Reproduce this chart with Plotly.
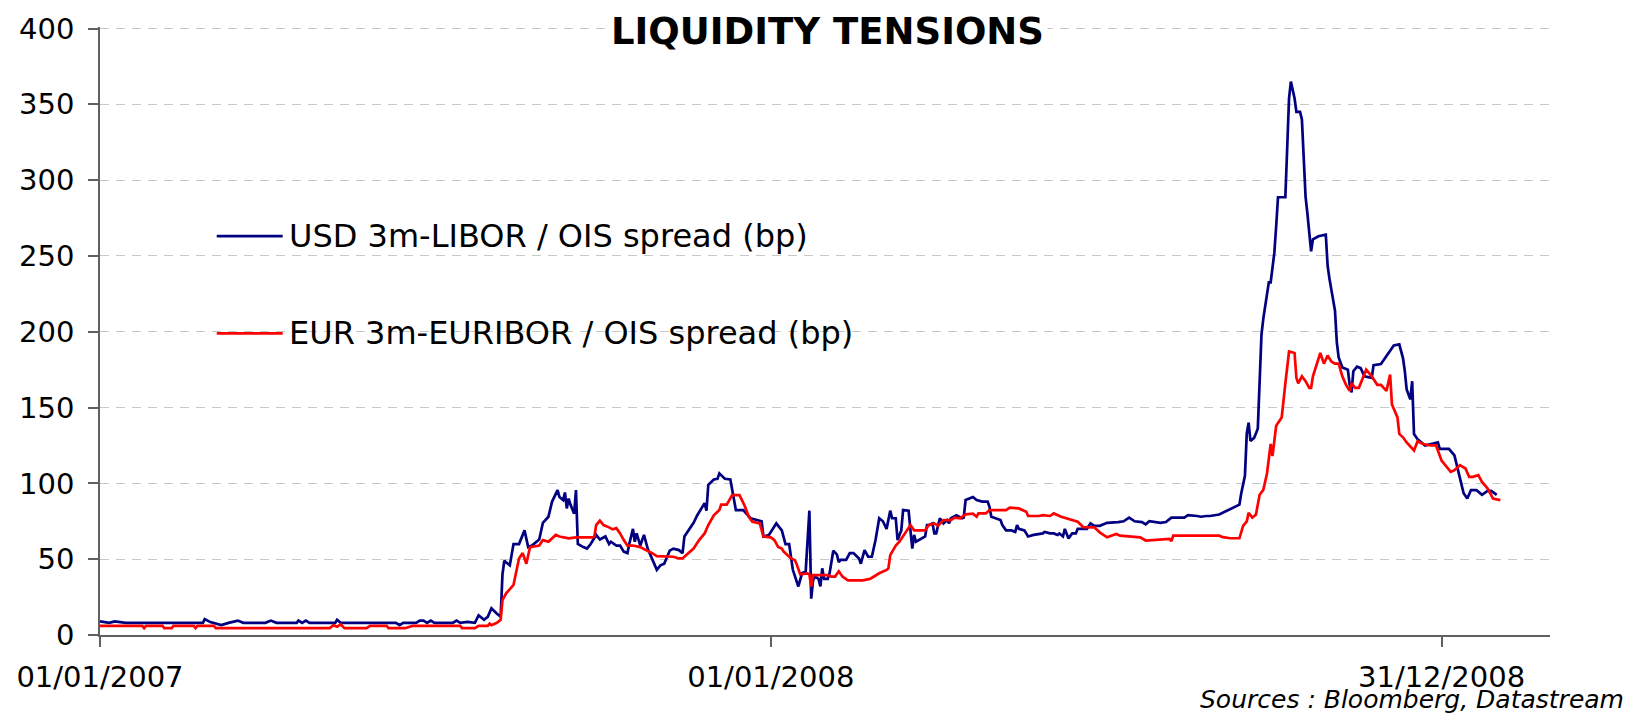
import pandas as pd
import plotly.graph_objects as go

# ---- data ----
base_date = "2007-01-01"          # day 0 of the day counts below

usd_day = [0, 5, 8, 14, 56, 57, 60, 66, 70, 75, 78, 90, 93, 96, 107, 108, 110, 112, 114,
           128, 129, 131, 161, 163, 165, 172, 174, 176, 178, 180, 182, 192, 194, 196, 200,
           204, 206, 209, 211, 213, 216, 218, 219, 220, 223, 225, 228, 231, 233, 235, 239,
           241, 244, 246, 249, 250, 252, 253, 254, 255, 256, 258, 259, 260, 263, 265, 267,
           270, 272, 275, 277, 278, 281, 283, 285, 287, 288, 290, 291, 292, 294, 296, 298,
           301, 303, 305, 307, 310, 312, 315, 317, 318, 321, 323, 325, 327, 329, 330, 331,
           334, 336, 337, 340, 343, 346, 350, 354, 360, 361, 364, 368, 371, 373, 375, 377,
           380, 382, 384, 386, 387, 388, 389, 391, 392, 393, 394, 396, 397, 399, 401, 402,
           403, 406, 408, 410, 413, 414, 416, 418, 420, 422, 424, 426, 428, 430, 431, 433,
           434, 436, 437, 440, 441, 442, 443, 444, 449, 450, 451, 453, 454, 455, 457, 459,
           461, 462, 463, 466, 469, 470, 471, 475, 477, 480, 483, 484, 485, 490, 491, 493,
           496, 498, 499, 500, 503, 505, 508, 513, 514, 517, 519, 521, 522, 524, 525, 527,
           529, 531, 532, 534, 537, 539, 541, 544, 548, 554, 557, 560, 563, 567, 569, 571,
           575, 577, 580, 583, 590, 592, 597, 599, 602, 604, 609, 613, 617, 620, 621, 623,
           624, 625, 626, 628, 630, 632, 633, 636, 637, 639, 640, 641, 645, 646, 647, 648,
           650, 651, 653, 654, 656, 657, 659, 660, 663, 667, 668, 669, 672, 673, 674, 676,
           679, 680, 681, 682, 684, 686, 688, 692, 693, 697, 701, 704, 707, 709, 710, 711,
           713, 714, 715, 717, 721, 728, 729, 734, 737, 739, 742, 744, 746, 749, 752, 755,
           757, 760]
usd_val = [9, 8, 9, 8, 8, 10.5, 8.5, 6.5, 8, 9.5, 8, 8, 9.5, 8, 8, 9.5, 8, 9.5, 8,
           8, 10, 8, 8, 6.5, 8, 8, 9.5, 9.5, 8, 9.5, 8, 8, 9.5, 8, 8.6,
           8, 13, 10, 12, 17.6, 14, 12, 40, 49, 46, 60, 60, 69, 58, 59, 63,
           74, 78, 88, 95.6, 91, 89, 94, 83.5, 90, 86, 80, 95.6, 60, 58, 57, 60,
           66, 63, 65, 60, 61.5, 59, 59, 55, 54, 60, 70, 61.5, 67, 59, 66, 57,
           48, 43, 46, 47, 55.6, 57, 56, 54, 65, 70, 74, 79, 83.5, 87, 82, 99,
           102.6, 103, 106.6, 103, 102.6, 82.4, 82.4, 77, 75, 65, 66, 73.6, 69, 60, 60, 43,
           32, 40.7, 42, 82, 24, 36, 38.5, 37, 32, 44, 37, 37, 40.7, 55.6, 53, 48,
           49.5, 49.5, 54, 54, 50.5, 47, 56, 51.6, 51.6, 62.6, 77, 75, 70, 82, 77, 77,
           62.6, 69, 82.4, 82, 69, 57, 66, 61.5, 65, 72.5, 72.5, 73.6, 67, 67, 77, 73.6,
           75.8, 73.6, 77, 79, 77, 77.5, 89, 91, 89, 88, 88, 84.6, 78, 75.8, 72.5, 69,
           69, 68, 72.5, 70, 69, 65, 66, 67, 68, 67, 67, 66, 67, 65, 70, 63.7,
           67, 67, 70, 70, 70, 73.6, 72, 72, 74, 74.5, 75, 77.4, 75, 74.5, 73, 75,
           74, 74, 74.5, 77.4, 77.4, 79, 78.5, 78, 78.5, 78.5, 79.5, 81.7, 84, 86, 93.5, 105,
           133, 140, 128, 130, 136, 198, 208.7, 232.6, 232.6, 252, 269.6, 288.7, 288.7, 325, 354, 365,
           354, 345, 345, 340, 289, 278, 253, 261, 263, 264, 243.5, 235, 214, 193, 183, 176.5,
           175, 165, 160, 174, 177, 176, 170.6, 169.6, 178, 178.7, 186, 191, 191.7, 182.6, 174, 162,
           155.4, 167.4, 132.6, 129, 125, 127, 122.8, 122.8, 118.5, 108.7, 93.5, 90, 95.6, 95.5, 92.4, 95,
           95, 92.4]

eur_day = [0, 23, 24, 25, 34, 35, 39, 40, 51, 52, 53, 62, 63, 125, 127, 129, 131, 133, 145,
           147, 156, 157, 166, 170, 196, 197, 204, 206, 211, 212, 213, 216, 218, 219, 221,
           225, 228, 230, 232, 234, 239, 241, 244, 248, 250, 253, 255, 259, 268, 269, 270,
           272, 274, 277, 279, 281, 283, 285, 287, 290, 294, 297, 300, 303, 309, 312, 315,
           317, 319, 323, 326, 329, 331, 334, 337, 338, 341, 344, 348, 351, 353, 355, 359,
           361, 365, 367, 369, 371, 372, 374, 376, 378, 379, 381, 385, 386, 387, 388, 396,
           398, 400, 402, 404, 407, 415, 419, 422, 424, 428, 429, 430, 433, 435, 437, 439,
           441, 443, 449, 451, 454, 456, 459, 463, 465, 468, 471, 475, 477, 478, 482, 484,
           493, 495, 500, 504, 505, 511, 513, 517, 519, 523, 526, 530, 532, 535, 539, 541,
           544, 548, 553, 555, 566, 569, 582, 583, 584, 609, 611, 615, 620, 622, 624, 625,
           627, 629, 631, 633, 635, 637, 638, 640, 643, 644, 645, 647, 650, 651, 652, 654,
           656, 658, 659, 660, 664, 666, 668, 670, 672, 674, 676, 678, 680, 681, 683, 685,
           687, 689, 692, 695, 697, 700, 702, 703, 706, 707, 709, 711, 715, 717, 718, 720,
           724, 727, 730, 735, 737, 740, 743, 745, 747, 750, 752, 755, 758, 762]
eur_val = [6, 6, 4.5, 6, 6, 4.5, 4.5, 6, 6, 4.5, 6, 6, 4.5, 4.5, 6.5, 5.5, 7, 4.5, 4.5,
           6, 6, 4.5, 4.5, 6, 6, 4.5, 4.5, 6, 6, 7.5, 6.5, 8, 10, 23, 27.5,
           33, 50.5, 54, 47, 58, 59, 62.6, 61.5, 66, 65, 64.5, 63.7, 64.4, 64.4, 65, 72.5,
           75.4, 72.5, 71, 69.7, 70.5, 67, 62.6, 59, 59, 58, 56, 54.3, 52, 52, 51.6, 50.5,
           50.5, 52.7, 57, 62.6, 67, 72.5, 79, 82.4, 86, 86, 92.3, 92.3, 84.6, 78, 74.7, 73.6,
           65, 64.4, 62.6, 58, 57, 55, 52.7, 50.5, 49.5, 47, 40, 40.7, 40, 32, 39.5, 39.5,
           38.5, 38.5, 42, 38.5, 36, 36, 37, 39.5, 40.7, 42.9, 44, 52.7, 59, 61.5, 65, 69,
           72.5, 69, 69, 72.5, 73.6, 72, 75.8, 75.8, 77.4, 77, 79.6, 80, 78, 80.2, 80.2, 82.4,
           82.4, 84, 83.5, 81.3, 78.5, 78.5, 79, 78.5, 80.2, 78, 77, 75.2, 74.7, 71.2, 71, 71,
           67.7, 64.4, 66.6, 65.5, 64.4, 62.3, 63.4, 62, 65.5, 65.5, 64.5, 63.8, 63.8, 72, 75, 80.6,
           77.4, 79.5, 92.5, 95.7, 106.5, 126, 118, 138, 143.5, 156.5, 166, 187, 186, 169.6, 166, 170.6,
           167.4, 163, 163, 170.6, 186, 179, 184.3, 180.4, 179, 179, 170.6, 165, 161, 166, 163, 163,
           168.5, 175, 170.6, 165, 165, 161, 171.7, 152, 143.5, 132.6, 130.4, 127, 121.7, 128, 127, 126,
           125, 125, 115, 107.6, 108.7, 112, 109.8, 104.3, 104.3, 105.4, 101, 96.7, 90, 89]

usd_name = "USD 3m-LIBOR / OIS spread (bp)"
eur_name = "EUR 3m-EURIBOR / OIS spread (bp)"
tick_dates = ["2007-01-01", "2008-01-01", "2008-12-31"]
tick_text = ["01/01/2007", "01/01/2008", "31/12/2008"]
y_ticks = [0, 50, 100, 150, 200, 250, 300, 350, 400]
x_range = ["2007-01-01", "2009-02-28"]
y_range = [0, 401]

usd_dates = pd.Timestamp(base_date) + pd.to_timedelta(usd_day, unit="D")
eur_dates = pd.Timestamp(base_date) + pd.to_timedelta(eur_day, unit="D")

USD_COLOR = "#000080"
EUR_COLOR = "#FF0000"
FONT = "DejaVu Sans"

fig = go.Figure()
fig.add_trace(go.Scatter(x=usd_dates, y=usd_val, mode="lines", name=usd_name,
                         line=dict(color=USD_COLOR, width=2.7), showlegend=False))
fig.add_trace(go.Scatter(x=eur_dates, y=eur_val, mode="lines", name=eur_name,
                         line=dict(color=EUR_COLOR, width=2.7), showlegend=False))

# white panel behind the legend (hides gridlines, like the original legend box)
fig.add_shape(type="rect", xref="paper", yref="paper", x0=0.022, x1=0.583, y0=0.44, y1=0.70,
              fillcolor="white", line=dict(width=0), layer="between")

# legend drawn as line samples + text
legend_items = [(usd_name, USD_COLOR, 0.656), (eur_name, EUR_COLOR, 0.496)]
for text, color, yy in legend_items:
    fig.add_shape(type="line", xref="paper", yref="paper", x0=0.0805, x1=0.126, y0=yy, y1=yy,
                  line=dict(color=color, width=2.7))
    fig.add_annotation(text=text, xref="paper", yref="paper", x=0.129, y=yy,
                       xanchor="left", yanchor="middle", showarrow=False,
                       font=dict(family=FONT, size=32, color="black"))

# title
fig.add_annotation(text="<b>LIQUIDITY TENSIONS</b>", xref="paper", yref="paper",
                   x=0.502, y=0.992, xanchor="center", yanchor="middle", showarrow=False,
                   font=dict(family=FONT, size=37, color="black"),
                   bgcolor="white", borderpad=3)

# sources
fig.add_annotation(text="<i>Sources : Bloomberg, Datastream</i>", xref="paper", yref="paper",
                   x=1.052, y=-0.1315, xanchor="right", yanchor="bottom", showarrow=False,
                   font=dict(family=FONT, size=25, color="black"), borderpad=0)

fig.update_layout(
    width=1637, height=717,
    margin=dict(l=100, r=87, t=23, b=82),
    paper_bgcolor="white", plot_bgcolor="white",
    font=dict(family=FONT, size=28, color="black"),
    showlegend=False,
)
fig.update_xaxes(type="date", range=x_range, tickvals=tick_dates, ticktext=tick_text,
                 showgrid=False, showline=True, linecolor="#606060", linewidth=1.5,
                 ticks="outside", ticklen=10, tickwidth=1.5, tickcolor="#606060",
                 ticklabelstandoff=5, tickfont=dict(family=FONT, size=29, color="black"),
                 zeroline=False)
fig.update_yaxes(range=y_range, tickvals=y_ticks, showgrid=True, gridcolor="#c8c8c8",
                 griddash="9px,7px", gridwidth=1,
                 showline=True, linecolor="#606060", linewidth=1.5,
                 ticks="outside", ticklen=10, tickwidth=1.5, tickcolor="#606060",
                 ticklabelstandoff=8, tickfont=dict(family=FONT, size=29, color="black"),
                 zeroline=False)

fig.write_html("out.html", config={"displayModeBar": False},
               post_script="document.body.style.margin='0px';"
                           "document.documentElement.style.overflow='hidden';")
